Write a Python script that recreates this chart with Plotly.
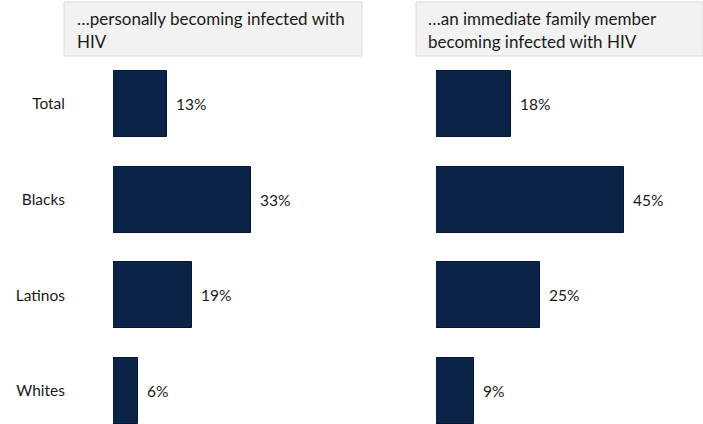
import plotly.graph_objects as go

categories = ["Total", "Blacks", "Latinos", "Whites"]
personal = [13, 33, 19, 6]
family = [18, 45, 25, 9]
titles_personal = ["…personally becoming infected with", "HIV"]
titles_family = ["…an immediate family member", "becoming infected with HIV"]

W, H = 703, 424
BAR = "#0b2249"
FONT = "Lato"
LBL = 15.5
HDR = 17
PXPCT = 4.17

fig = go.Figure()
fig.add_trace(go.Bar(y=categories, x=personal, orientation="h", xaxis="x", yaxis="y",
                     marker=dict(color=BAR, line=dict(color="#061633", width=1)), width=0.69,
                     hoverinfo="skip"))
fig.add_trace(go.Bar(y=categories, x=family, orientation="h", xaxis="x2", yaxis="y2",
                     marker=dict(color=BAR, line=dict(color="#061633", width=1)), width=0.69,
                     hoverinfo="skip"))

l0, l1 = 113, 362
r0, r1 = 436, 703
yr = [3.345, -1.087]

ann = []
for cat, v in zip(categories, personal):
    ann.append(dict(x=v, y=cat, xref="x", yref="y", text=f"{v}%", showarrow=False,
                    xanchor="left", xshift=7, font=dict(size=LBL, color="#1a1a1a", family=FONT)))
for cat, v in zip(categories, family):
    ann.append(dict(x=v, y=cat, xref="x2", yref="y2", text=f"{v}%", showarrow=False,
                    xanchor="left", xshift=7, font=dict(size=LBL, color="#1a1a1a", family=FONT)))

shapes = []
for (x0, x1, lines, tx) in [(64, 362, titles_personal, 75), (416, 703, titles_family, 426)]:
    shapes.append(dict(type="rect", xref="paper", yref="paper",
                       x0=x0 / W, x1=x1 / W, y0=1 - 56 / H, y1=1 - 2 / H,
                       fillcolor="#f2f2f2", line=dict(color="#d9d9d9", width=1), layer="below"))
    for i, line in enumerate(lines):
        yc = 18 + 23 * i
        ann.append(dict(x=tx / W, y=1 - yc / H, xref="paper", yref="paper", text=line,
                        showarrow=False, xanchor="left", yanchor="middle",
                        font=dict(size=HDR, color="#1a1a1a", family=FONT)))

fig.update_layout(
    width=W, height=H, margin=dict(l=0, r=0, t=0, b=0),
    paper_bgcolor="white", plot_bgcolor="white", showlegend=False, bargap=0,
    font=dict(family=FONT, size=LBL, color="#1a1a1a"),
    xaxis=dict(domain=[l0 / W, l1 / W], range=[0, (l1 - l0) / PXPCT], visible=False, fixedrange=True),
    xaxis2=dict(domain=[r0 / W, r1 / W], range=[0, (r1 - r0) / PXPCT], visible=False, fixedrange=True),
    yaxis=dict(domain=[0, 1], range=yr, categoryorder="array", categoryarray=categories,
               showgrid=False, zeroline=False, showline=False, ticks="", ticklabelstandoff=47,
               tickfont=dict(size=LBL, family=FONT, color="#1a1a1a"), anchor="x"),
    yaxis2=dict(domain=[0, 1], range=yr, categoryorder="array", categoryarray=categories,
                showgrid=False, zeroline=False, showline=False, showticklabels=False, anchor="x2"),
    annotations=ann, shapes=shapes,
)
fig.write_html("out.html")
